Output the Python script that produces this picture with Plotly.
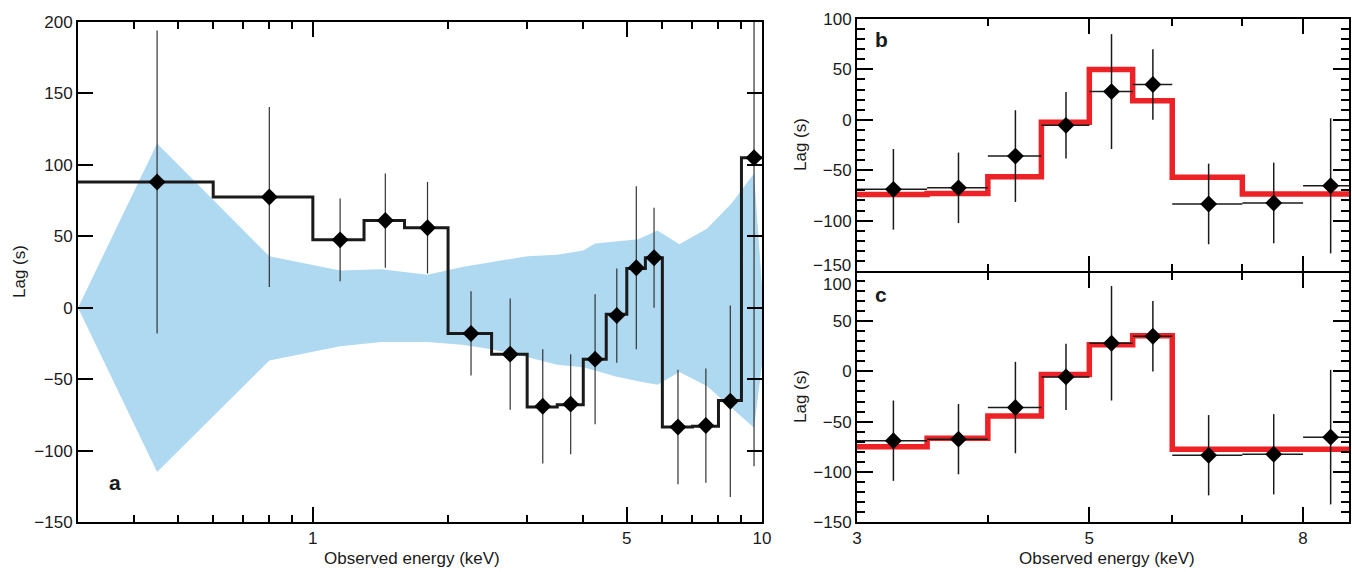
import numpy as np
import plotly.graph_objects as go

# ---------------- Panel a data ----------------
a_energy = [0.45, 0.8, 1.15, 1.45, 1.8, 2.25, 2.75, 3.25, 3.75, 4.25, 4.75, 5.25, 5.75, 6.5, 7.5, 8.5, 9.6]
a_lag = [88, 77.5, 47.5, 61, 56, -18, -32.5, -69, -67.5, -36, -5.5, 28, 35, -83.5, -82.5, -65.5, 105]
a_err = [106, 63, 29, 33, 32, 29.5, 39, 40, 35, 45.5, 33, 57, 35, 40, 40, 67, 216]
a_edges = [0.3, 0.6, 1.0, 1.3, 1.6, 2.0, 2.5, 3.0, 3.5, 4.0, 4.5, 5.0, 5.5, 6.0, 7.0, 8.0, 9.0, 10.0]
a_step = [88, 77.5, 47.5, 61, 56, -18, -32.5, -69.5, -68, -36, -4.5, 27.5, 35, -83.5, -83, -65, 105]

band_energy = [0.3, 0.45, 0.8, 1.15, 1.42, 1.8, 2.15, 2.5, 3.0, 3.5, 4.0, 4.25, 4.7, 5.3, 5.85, 6.55, 7.55, 8.55, 9.6, 10.0]
band_upper = [0, 115, 36, 26, 27, 23, 28.5, 32, 36, 37, 40, 45, 46.5, 48, 54, 44.5, 55.5, 73, 94, 15]
band_lower = [0, -115, -37, -27, -24, -24, -26, -29, -34.5, -40, -41.6, -44, -48, -51.5, -54, -45, -55, -70, -84, -40]

# ---------------- Panels b / c data ----------------
bc_energy = [3.25, 3.75, 4.25, 4.75, 5.25, 5.75, 6.5, 7.5, 8.5]
bc_lo_edge = [3.0, 3.5, 4.0, 4.5, 5.0, 5.5, 6.0, 7.0, 8.0]
bc_hi_edge = [3.5, 4.0, 4.5, 5.0, 5.5, 6.0, 7.0, 8.0, 9.0]
bc_lag = [-69, -67.5, -36, -5.5, 28, 35, -83.5, -82.5, -65.5]
bc_err = [40, 35, 45.5, 33, 57, 35, 40, 40, 67]

model_b_edges = [3.0, 3.5, 4.0, 4.5, 5.0, 5.5, 6.0, 7.0, 9.0]
model_b = [-74, -73, -56.5, -2.5, 50, 19, -57, -73.5]
model_c_edges = [3.0, 3.5, 4.0, 4.5, 5.0, 5.5, 6.0, 9.0]
model_c = [-75, -66.5, -44.5, -3, 26.5, 35.5, -77.5]

a_major = [1, 5, 10]
a_minor = [0.4, 0.5, 0.6, 0.7, 0.8, 0.9, 2, 3, 4, 6, 7, 8, 9]
bc_major = [3, 5, 8]
bc_minor = [4, 6, 7]

W, H = 1352, 572
FONT = "Liberation Sans, Arial, Helvetica, sans-serif"
INK = "#1a1a1a"
RED = "#ec2227"
BLUE = "#aed9f1"

fig = go.Figure()

# band
fig.add_trace(go.Scatter(
    x=band_energy + band_energy[::-1],
    y=band_upper + band_lower[::-1],
    fill="toself", fillcolor=BLUE, line=dict(width=0), mode="lines",
    hoverinfo="skip", showlegend=False, xaxis="x", yaxis="y"))

# step (panel a)
fig.add_trace(go.Scatter(
    x=a_edges, y=a_step + [a_step[-1]], mode="lines", line_shape="hv",
    line=dict(color=INK, width=3), showlegend=False, xaxis="x", yaxis="y"))

# points (panel a)
fig.add_trace(go.Scatter(
    x=a_energy, y=a_lag, mode="markers",
    marker=dict(symbol="diamond", size=13, color="black"),
    error_y=dict(type="data", array=a_err, color="#333333", thickness=1.2, width=0),
    showlegend=False, xaxis="x", yaxis="y"))

xplus = [h - e for h, e in zip(bc_hi_edge, bc_energy)]
xminus = [e - l for e, l in zip(bc_energy, bc_lo_edge)]

for edges, vals, xa, ya in [(model_b_edges, model_b, "x2", "y2"), (model_c_edges, model_c, "x3", "y3")]:
    fig.add_trace(go.Scatter(
        x=edges, y=vals + [vals[-1]], mode="lines", line_shape="hv",
        line=dict(color=RED, width=5.5), showlegend=False, xaxis=xa, yaxis=ya))
    fig.add_trace(go.Scatter(
        x=bc_energy, y=bc_lag, mode="markers",
        marker=dict(symbol="diamond", size=13, color="black"),
        error_y=dict(type="data", array=bc_err, color=INK, thickness=1.5, width=0),
        error_x=dict(type="data", array=xplus, arrayminus=xminus, color=INK, thickness=1.5, width=0),
        showlegend=False, xaxis=xa, yaxis=ya))

tickfont = dict(family=FONT, size=17, color=INK)
common = dict(showgrid=False, zeroline=False, showline=True, linecolor="black", linewidth=2,
              ticks="inside", tickcolor="black", tickwidth=1.5, mirror="allticks",
              tickfont=tickfont, automargin=False)

xa_dom = [78 / W, 762 / W]
xb_dom = [857 / W, 1349 / W]
ya_dom = [(H - 522) / H, (H - 22) / H]
yb_dom = [(H - 271) / H, (H - 19) / H]
yc_dom = [(H - 522) / H, (H - 273) / H]
c_top = 100 - 2 / 1.004

fig.update_layout(
    width=W, height=H, margin=dict(l=0, r=0, t=0, b=0),
    paper_bgcolor="white", plot_bgcolor="white", showlegend=False,
    font=dict(family=FONT, color=INK),
    xaxis=dict(domain=xa_dom, anchor="y", type="log", range=[np.log10(0.3), 1.0],
               tickmode="array", tickvals=a_major, ticktext=["1", "5", "10"], ticklen=15,
               minor=dict(tickmode="array", tickvals=a_minor, ticks="inside", ticklen=7,
                          tickcolor="black", tickwidth=1.5),
               **common),
    yaxis=dict(domain=ya_dom, anchor="x", range=[-150, 200], tickmode="array",
               tickvals=[-150, -100, -50, 0, 50, 100, 150, 200], ticklen=15, **common),
    xaxis2=dict(domain=xb_dom, anchor="y2", type="log", range=[np.log10(3), np.log10(8.85)],
                tickmode="array", tickvals=bc_major, showticklabels=False, ticklen=15,
                minor=dict(tickmode="array", tickvals=bc_minor, ticks="inside", ticklen=7,
                           tickcolor="black", tickwidth=1.5),
                **common),
    yaxis2=dict(domain=yb_dom, anchor="x2", range=[-150, 100], tickmode="array",
                tickvals=[-150, -100, -50, 0, 50, 100],
                ticktext=["", "\u2212100", "\u221250", "0", "50", "100"], ticklen=16,
                minor=dict(dtick=10, ticks="inside", ticklen=8, tickcolor="black", tickwidth=1.5),
                **common),
    xaxis3=dict(domain=xb_dom, anchor="y3", type="log", range=[np.log10(3), np.log10(8.85)],
                tickmode="array", tickvals=bc_major, ticktext=["3", "5", "8"], ticklen=15,
                minor=dict(tickmode="array", tickvals=bc_minor, ticks="inside", ticklen=7,
                           tickcolor="black", tickwidth=1.5),
                **common),
    yaxis3=dict(domain=yc_dom, anchor="x3", range=[-150, c_top], tickmode="array",
                tickvals=[-150, -100, -50, 0, 50],
                ticktext=["\u2212150", "\u2212100", "\u221250", "0", "50"], ticklen=16,
                minor=dict(dtick=10, ticks="inside", ticklen=8, tickcolor="black", tickwidth=1.5),
                **common),
)

ann = []
# shifted end tick labels at shared border
ann.append(dict(text="\u2212150", xref="paper", yref="paper", x=xb_dom[0], y=(H - 265) / H,
                xanchor="right", yanchor="middle", xshift=-4, showarrow=False, font=tickfont))
ann.append(dict(text="100", xref="paper", yref="paper", x=xb_dom[0], y=(H - 284) / H,
                xanchor="right", yanchor="middle", xshift=-4, showarrow=False, font=tickfont))
# axis titles
ttl = dict(family=FONT, size=17, color=INK)
ann.append(dict(text="Lag (s)", xref="paper", yref="paper", x=19 / W, y=(H - 272) / H,
                textangle=-90, showarrow=False, font=ttl, xanchor="center", yanchor="middle"))
ann.append(dict(text="Lag (s)", xref="paper", yref="paper", x=800 / W, y=(H - 145) / H,
                textangle=-90, showarrow=False, font=ttl, xanchor="center", yanchor="middle"))
ann.append(dict(text="Lag (s)", xref="paper", yref="paper", x=800 / W, y=(H - 397) / H,
                textangle=-90, showarrow=False, font=ttl, xanchor="center", yanchor="middle"))
ann.append(dict(text="Observed energy (keV)", xref="paper", yref="paper", x=412 / W, y=(H - 558) / H,
                showarrow=False, font=ttl, xanchor="center", yanchor="middle"))
ann.append(dict(text="Observed energy (keV)", xref="paper", yref="paper", x=1107 / W, y=(H - 558) / H,
                showarrow=False, font=ttl, xanchor="center", yanchor="middle"))
# panel labels
lab = dict(family=FONT, size=21, color=INK)
ann.append(dict(text="<b>a</b>", xref="paper", yref="paper", x=115 / W, y=(H - 482) / H,
                showarrow=False, font=lab, xanchor="center", yanchor="middle"))
ann.append(dict(text="<b>b</b>", xref="paper", yref="paper", x=881 / W, y=(H - 40) / H,
                showarrow=False, font=lab, xanchor="center", yanchor="middle"))
ann.append(dict(text="<b>c</b>", xref="paper", yref="paper", x=881 / W, y=(H - 294) / H,
                showarrow=False, font=lab, xanchor="center", yanchor="middle"))
fig.update_layout(annotations=ann)

fig.write_html("out.html", config={"displayModeBar": False},
               post_script="document.body.style.margin='0px';document.body.style.overflow='hidden';")
